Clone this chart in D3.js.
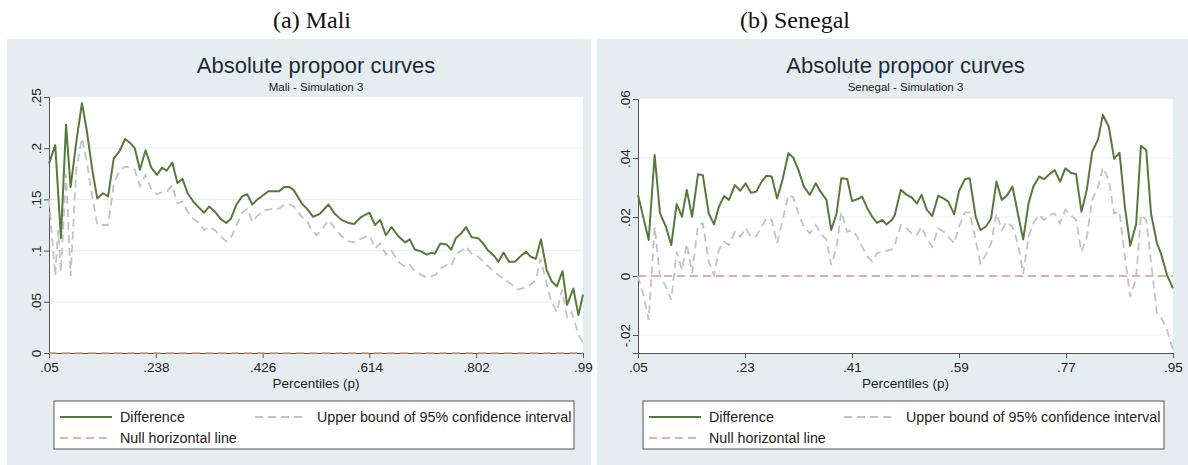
<!DOCTYPE html>
<html>
<head>
<meta charset="utf-8">
<script src="https://cdn.jsdelivr.net/npm/d3@7"></script>
<style>
  html, body { margin: 0; padding: 0; background: #fff; }
  svg { display: block; font-family: "Liberation Sans", Arial, sans-serif; }
</style>
</head>
<body>
<svg id="chart" width="1188" height="465"></svg>
<script>
// ---- Mali (simulation 3) ----
const maliDiffP = [.050,.061,.071,.080,.088,.099,.108,.116,.127,.135,.145,.154,.164,.174,.184,.193,.201,.210,.220,.230,
  .240,.249,.257,.267,.276,.285,.294,.304,.314,.323,.332,.342,.352,.362,.370,.380,.390,.399,.408,.417,
  .427,.436,.455,.464,.473,.481,.495,.504,.515,.527,.542,.553,.565,.577,.587,.600,.614,.624,.633,.643,
  .653,.665,.677,.685,.694,.706,.715,.724,.729,.739,.750,.758,.766,.776,.784,.794,.806,.814,.823,.835,
  .841,.850,.860,.870,.879,.890,.898,.907,.916,.926,.935,.944,.954,.962,.973,.982,.990];
const maliDiff = [.185,.203,.112,.223,.162,.210,.244,.219,.176,.151,.156,.153,.190,.197,.209,.205,.200,.179,.198,.181,
  .174,.181,.178,.186,.166,.170,.156,.148,.142,.137,.143,.138,.131,.127,.131,.145,.153,.155,.145,.150,
  .154,.158,.158,.162,.162,.159,.146,.141,.133,.136,.145,.136,.130,.127,.126,.133,.137,.125,.130,.115,
  .123,.114,.108,.111,.101,.099,.096,.098,.097,.107,.106,.101,.112,.117,.123,.113,.112,.107,.100,.094,
  .089,.098,.089,.089,.094,.099,.094,.092,.111,.081,.070,.065,.080,.047,.063,.037,.057];
const maliUpperP = [.050,.061,.066,.071,.080,.088,.098,.108,.117,.127,.135,.145,.154,.164,.174,.184,.193,.201,.210,.220,
  .230,.240,.249,.257,.267,.276,.285,.294,.304,.314,.323,.332,.342,.352,.362,.370,.380,.390,.399,.408,
  .417,.427,.436,.455,.464,.473,.481,.495,.504,.512,.521,.530,.542,.553,.565,.577,.587,.600,.614,.624,
  .633,.643,.653,.665,.677,.685,.694,.706,.715,.724,.732,.741,.750,.758,.766,.776,.784,.794,.806,.826,
  .844,.862,.876,.894,.907,.915,.926,.933,.944,.953,.962,.970,.982,.990];
const maliUpper = [.150,.075,.120,.079,.175,.075,.180,.210,.185,.150,.125,.125,.125,.165,.178,.182,.181,.179,.163,.174,
  .160,.155,.157,.157,.164,.146,.148,.138,.131,.127,.120,.123,.120,.114,.109,.112,.125,.137,.141,.128,
  .134,.139,.140,.141,.145,.145,.143,.133,.130,.120,.115,.120,.130,.122,.114,.109,.108,.112,.115,.102,
  .107,.096,.100,.089,.084,.086,.080,.076,.074,.075,.077,.083,.086,.085,.096,.100,.104,.097,.094,.083,
  .075,.068,.062,.065,.071,.092,.068,.052,.040,.062,.035,.040,.018,.010];
const maliYTicks = [0, .05, .1, .15, .2, .25];
const maliYLabels = ["0", ".05", ".1", ".15", ".2", ".25"];
const maliXTicks = [.05, .238, .426, .614, .802, .99];
const maliXLabels = [".05", ".238", ".426", ".614", ".802", ".99"];

// ---- Senegal (simulation 3) ----
const senDiffP = [.050,.068,.078,.087,.097,.106,.115,.124,.132,.141,.151,.159,.169,.178,.186,.195,.203,.213,.222,.231,
  .240,.249,.258,.266,.275,.284,.293,.303,.311,.320,.329,.339,.349,.357,.367,.375,.384,.392,.402,.410,
  .419,.427,.436,.444,.452,.461,.468,.477,.482,.492,.502,.510,.519,.527,.536,.545,.555,.564,.572,.582,
  .590,.600,.608,.618,.626,.635,.644,.653,.662,.670,.680,.689,.698,.707,.715,.725,.733,.742,.751,.760,
  .769,.778,.787,.796,.805,.814,.824,.832,.842,.851,.860,.869,.878,.888,.896,.905,.913,.923,.930,.940,.950];
const senDiff = [.0275,.0122,.0410,.0212,.0167,.0105,.0244,.0201,.0292,.0201,.0345,.0342,.0212,.0175,.0235,.0271,.0258,.0308,.0289,.0314,
  .0282,.0286,.0320,.0340,.0337,.0263,.0325,.0416,.0402,.0359,.0303,.0275,.0314,.0286,.0258,.0156,.0212,.0331,.0329,.0254,
  .0260,.0269,.0229,.0201,.0180,.0190,.0175,.0190,.0207,.0292,.0275,.0267,.0246,.0275,.0224,.0203,.0272,.0263,.0252,.0209,
  .0288,.0328,.0331,.0201,.0156,.0167,.0195,.0320,.0258,.0271,.0303,.0212,.0124,.0246,.0303,.0337,.0328,.0345,.0359,.0320,
  .0365,.0350,.0345,.0218,.0292,.0421,.0463,.0546,.0506,.0397,.0418,.0235,.0103,.0176,.0441,.0427,.0212,.0111,.0075,.0003,-.0042];
const senUpperP = [.050,.060,.068,.078,.087,.097,.106,.115,.124,.132,.141,.151,.159,.169,.178,.186,.195,.203,.213,.222,
  .231,.240,.249,.258,.266,.275,.284,.303,.311,.320,.329,.339,.349,.357,.367,.375,.384,.392,.402,.410,
  .419,.427,.436,.444,.452,.461,.468,.477,.482,.492,.502,.510,.519,.527,.536,.545,.555,.564,.572,.582,
  .590,.600,.608,.618,.626,.635,.644,.653,.662,.670,.680,.689,.698,.707,.715,.725,.733,.742,.751,.760,
  .769,.778,.787,.796,.805,.814,.824,.832,.842,.851,.860,.869,.878,.888,.896,.905,.913,.923,.932,.940,.950];
const senUpper = [.0000,-.0070,-.0149,.0167,.0000,-.0036,-.0081,.0082,.0020,.0110,.0010,.0173,.0179,.0049,.0003,.0088,.0116,.0105,.0150,.0133,
  .0162,.0133,.0136,.0167,.0196,.0190,.0110,.0275,.0267,.0212,.0167,.0145,.0173,.0145,.0122,.0037,.0099,.0218,.0150,.0156,
  .0133,.0099,.0066,.0049,.0077,.0082,.0085,.0090,.0105,.0173,.0162,.0145,.0139,.0167,.0128,.0099,.0162,.0150,.0133,.0111,
  .0167,.0216,.0216,.0122,.0043,.0071,.0111,.0212,.0156,.0184,.0167,.0111,.0007,.0133,.0179,.0207,.0190,.0207,.0212,.0179,
  .0224,.0207,.0190,.0082,.0133,.0258,.0303,.0368,.0325,.0212,.0218,.0066,-.0070,-.0008,.0207,.0190,.0049,-.0127,-.0149,-.0183,-.0251];
const senYTicks = [-.02, 0, .02, .04, .06];
const senYLabels = ["-.02", "0", ".02", ".04", ".06"];
const senXTicks = [.05, .23, .41, .59, .77, .95];
const senXLabels = [".05", ".23", ".41", ".59", ".77", ".95"];

const legendLabels = ["Difference", "Upper bound of 95% confidence interval", "Null horizontal line"];

const COL_BG = "#e6edf0";
const COL_DIFF = "#567a3b";
const COL_UPPER = "#c3c3c3";
const COL_NULL = "#dc9a7c";
const COL_AXIS = "#555";
const COL_GRID = "#eaf0f2";

const svg = d3.select("#chart");

function pairs(ps, vs) {
  const n = Math.min(ps.length, vs.length);
  return d3.range(n).map(i => [ps[i], vs[i]]);
}

function drawPanel(cfg) {
  const g = svg.append("g");

  // caption above the graph
  g.append("text")
    .attr("x", cfg.captionX).attr("y", 28)
    .attr("text-anchor", "middle")
    .style("font-family", "'Liberation Serif', 'DejaVu Serif', serif")
    .style("font-size", "24px")
    .attr("fill", "#111")
    .text(cfg.caption);

  // graph region
  g.append("rect")
    .attr("x", cfg.bgX0).attr("y", 39)
    .attr("width", cfg.bgX1 - cfg.bgX0).attr("height", 465 - 39)
    .attr("fill", COL_BG);

  const x = d3.scaleLinear()
    .domain([cfg.xTicks[0], cfg.xTicks[cfg.xTicks.length - 1]])
    .range([cfg.left, cfg.right]);
  const y = d3.scaleLinear().domain(cfg.yDomain).range([cfg.bottom, cfg.top]);

  // plot region
  g.append("rect")
    .attr("x", cfg.left).attr("y", cfg.top)
    .attr("width", cfg.right - cfg.left).attr("height", cfg.bottom - cfg.top)
    .attr("fill", "#fff");

  // grid lines at interior ticks
  g.selectAll(".grid")
    .data(cfg.yTicks.filter(t => y(t) > cfg.top + 1 && y(t) < cfg.bottom - 1))
    .enter().append("line")
    .attr("x1", cfg.left).attr("x2", cfg.right)
    .attr("y1", d => y(d)).attr("y2", d => y(d))
    .attr("stroke", COL_GRID).attr("stroke-width", 1.2);

  // titles
  const cx = (cfg.left + cfg.right) / 2;
  g.append("text")
    .attr("x", cx).attr("y", 73)
    .attr("text-anchor", "middle")
    .style("font-size", "22px")
    .attr("fill", "#1f2b38")
    .text(cfg.title);
  g.append("text")
    .attr("x", cx).attr("y", 91)
    .attr("text-anchor", "middle")
    .style("font-size", "11.5px")
    .attr("fill", "#222")
    .text(cfg.subtitle);

  const line = d3.line().x(d => x(d[0])).y(d => y(d[1]));

  // axes
  const xAxis = d3.axisBottom(x).tickValues(cfg.xTicks)
    .tickFormat((d, i) => cfg.xLabels[i]).tickSize(5).tickPadding(4);
  const gx = g.append("g").attr("transform", "translate(0," + cfg.bottom + ")").call(xAxis);
  gx.selectAll("text").style("font-size", "13.5px").attr("fill", "#222");

  const yAxis = d3.axisLeft(y).tickValues(cfg.yTicks)
    .tickFormat((d, i) => cfg.yLabels[i]).tickSize(5);
  const gy = g.append("g").attr("transform", "translate(" + cfg.left + ",0)").call(yAxis);
  gy.selectAll("text")
    .attr("x", 0).attr("y", -8).attr("dy", 0)
    .attr("text-anchor", "middle")
    .attr("transform", "rotate(-90)")
    .style("font-size", "13.5px").attr("fill", "#222");
  [gx, gy].forEach(a => {
    a.select(".domain").attr("stroke", COL_AXIS);
    a.selectAll(".tick line").attr("stroke", COL_AXIS);
  });

  // null line
  g.append("path")
    .datum(pairs([cfg.xTicks[0], cfg.xTicks[cfg.xTicks.length - 1]], [0, 0]))
    .attr("d", line).attr("fill", "none")
    .attr("stroke", COL_NULL).attr("stroke-width", 1.4)
    .attr("stroke-dasharray", "8,5");

  // upper bound
  g.append("path")
    .datum(pairs(cfg.upP, cfg.up))
    .attr("d", line).attr("fill", "none")
    .attr("stroke", COL_UPPER).attr("stroke-width", 1.8)
    .attr("stroke-dasharray", "8,5");

  // difference
  g.append("path")
    .datum(pairs(cfg.diffP, cfg.diff))
    .attr("d", line).attr("fill", "none")
    .attr("stroke", COL_DIFF).attr("stroke-width", 2)
    .attr("stroke-linejoin", "round");

  // x axis title
  g.append("text")
    .attr("x", cx).attr("y", 388)
    .attr("text-anchor", "middle")
    .style("font-size", "13.5px").attr("fill", "#222")
    .text("Percentiles (p)");

  // legend
  const lx = cfg.left + 5, ly = 401;
  g.append("rect")
    .attr("x", lx).attr("y", ly)
    .attr("width", cfg.right - 9 - lx).attr("height", 48)
    .attr("fill", "#fff").attr("stroke", COL_AXIS).attr("stroke-width", 1);

  const keys = [
    { dx: 6, tx: 66, row: 0, color: COL_DIFF, dash: null, w: 2, label: legendLabels[0] },
    { dx: 201, tx: 263, row: 0, color: COL_UPPER, dash: "8,5", w: 1.8, label: legendLabels[1] },
    { dx: 6, tx: 66, row: 1, color: COL_NULL, dash: "8,5", w: 1.4, label: legendLabels[2] }
  ];
  keys.forEach(k => {
    const yy = ly + 16 + k.row * 21;
    g.append("line")
      .attr("x1", lx + k.dx).attr("x2", lx + k.dx + 52)
      .attr("y1", yy).attr("y2", yy)
      .attr("stroke", k.color).attr("stroke-width", k.w)
      .attr("stroke-dasharray", k.dash);
    g.append("text")
      .attr("x", lx + k.tx).attr("y", yy + 5)
      .style("font-size", "14.3px").attr("fill", "#222")
      .text(k.label);
  });
}

drawPanel({
  caption: "(a) Mali", captionX: 312, bgX0: 7, bgX1: 591,
  left: 49, right: 583, top: 97, bottom: 353,
  yDomain: [0, .25], yTicks: maliYTicks, yLabels: maliYLabels,
  xTicks: maliXTicks, xLabels: maliXLabels,
  title: "Absolute propoor curves", subtitle: "Mali - Simulation 3",
  diffP: maliDiffP, diff: maliDiff, upP: maliUpperP, up: maliUpper
});

drawPanel({
  caption: "(b) Senegal", captionX: 795, bgX0: 597, bgX1: 1188,
  left: 638, right: 1173, top: 99, bottom: 353,
  yDomain: [-.0261, .06], yTicks: senYTicks, yLabels: senYLabels,
  xTicks: senXTicks, xLabels: senXLabels,
  title: "Absolute propoor curves", subtitle: "Senegal - Simulation 3",
  diffP: senDiffP, diff: senDiff, upP: senUpperP, up: senUpper
});
</script>
</body>
</html>
